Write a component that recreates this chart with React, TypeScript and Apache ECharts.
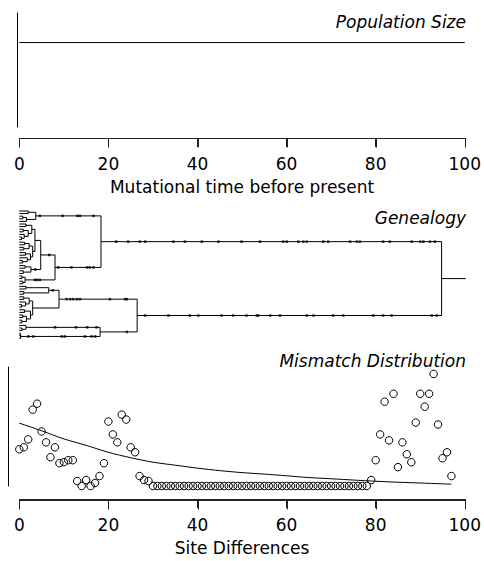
import React, { useEffect, useRef } from "react";
import * as echarts from "echarts";

// ---------- data ----------
const xTicks = [0, 20, 40, 60, 80, 100];
const popTime = [0, 100];
const popSize = [1, 1];

// Genealogy: internal node = [time, child, child, mutationTimesOnBranchAbove?]; leaf = leaf row index
type Node = number | [number, Node, Node, number[]?];
const cladeA1: Node = [3.7, [2.0, 0, 1], [1.6, [0.8, 2, 3], 4], [4.6, 9.7, 13.0, 13.6, 16.6]];
const cladeA2a1: Node = [3.5, [2.8, [1.5, 5, 6], [2.0, [0.9, 7, 8], [1.1, 9, [0.5, 10, 11]]]], [3.0, [2.2, [1.2, 12, 13], [1.0, 14, 15]], [2.5, [1.4, 16, 17], [1.8, 18, [0.7, 19, 20]]]]];
const cladeA2a2: Node = [2.6, [1.3, 21, 22], [0.9, 23, 24], [3.6]];
const cladeA2a: Node = [4.8, cladeA2a1, cladeA2a2, [6.7]];
const cladeA2b: Node = [1.3, [0.6, 25, 26], [0.8, 27, 28], [3.5, 4.0, 4.6]];
const cladeA2: Node = [8.0, cladeA2a, cladeA2b, [8.7, 11.7, 15.2, 15.8, 16.6]];
const cladeA: Node = [18.3, cladeA1, cladeA2, [21.7, 24.4, 27.0, 28.2, 34.5, 37.1, 40.9, 44.6, 49.8, 53.9, 59.1, 59.9, 62.5, 63.6, 64.4, 68.1, 69.2, 74.1, 75.6, 76.3, 81.5, 83.0, 87.9, 89.8, 90.5, 92.0, 93.1]];
const cladeB1a: Node = [6.6, [1.5, 29, 30], [1.0, 31, 32], [7.5]];
const cladeB1b: Node = [3.0, [2.2, [1.0, 33, 34], [1.4, 35, [0.5, 36, 37]]], [2.5, [1.2, 38, 39], [1.6, [0.8, 40, 41], [0.6, 42, 43]]]];
const cladeB1: Node = [8.9, cladeB1a, cladeB1b, [10.6, 11.4, 12.1, 12.9, 13.6, 20.3, 23.7, 24.1]];
const cladeB2a: Node = [1.5, 44, [0.6, 45, 46], [8.0, 12.7, 15.2, 17.3]];
const cladeB2b: Node = [0.3, [0.2, 47, 48], 49, [2.0, 3.1, 9.5, 10.2, 14.7, 16.2, 17.0]];
const cladeB2: Node = [18.1, cladeB2a, cladeB2b, [24.1]];
const cladeB: Node = [26.4, cladeB1, cladeB2, [28.2, 33.4, 38.2, 40.1, 45.3, 47.9, 50.9, 53.2, 53.5, 56.2, 58.4, 64.4, 65.9, 70.3, 72.6, 79.3, 81.5, 83.4, 92.4, 93.5]];
const genealogy: Node = [94.6, cladeA, cladeB];
const rootStemEnd = 100;

// Mismatch distribution
const siteDiffObserved = [
  37, 39, 47, 77, 83, 55, 44, 29, 39, 23,
  24, 26, 26, 5, 0, 6, 0, 3, 10, 23,
  65, 52, 44, 72, 67, 39, 34, 10, 6, 5,
  0, 0, 0, 0, 0, 0, 0, 0, 0, 0,
  0, 0, 0, 0, 0, 0, 0, 0, 0, 0,
  0, 0, 0, 0, 0, 0, 0, 0, 0, 0,
  0, 0, 0, 0, 0, 0, 0, 0, 0, 0,
  0, 0, 0, 0, 0, 0, 0, 0, 0, 6,
  26, 52, 85, 46, 93, 19, 44, 32, 24, 64,
  93, 80, 93, 113, 62, 28, 34, 10,
];
const expectedX = [0, 5, 10, 15, 20, 25, 30, 35, 40, 45, 50, 55, 60, 65, 70, 75, 80, 85, 90, 95, 97];
const expectedY = [63.4, 55.7, 47.5, 41, 34, 28.5, 24, 21, 18, 15.5, 13.5, 12, 10.3, 8.5, 7.3, 6, 4.8, 3.8, 3, 2.2, 1.8];

// ---------- helpers ----------
function layoutTree(node: Node, parentT: number, segs: number[][], muts: number[][]): number {
  if (typeof node === "number") {
    segs.push([0, node, parentT, node]);
    return node;
  }
  const [t, a, b, m] = node;
  const ya = layoutTree(a, t, segs, muts);
  const yb = layoutTree(b, t, segs, muts);
  const y = (ya + yb) / 2;
  segs.push([t, ya, t, yb]);
  segs.push([t, y, parentT, y]);
  (m || []).forEach((mt) => muts.push([mt, y]));
  return y;
}

const FONT = "DejaVu Sans";
const AXIS_COLOR = "#222";
const TICK_LEN = 9;
const GRID_LEFT = 19.3;
const GRID_WIDTH = 446.4;

const crisp = (v: number) => {
  const d = Math.round(v * 2);
  return (d + 1) % 2 === 0 ? d / 2 : (d + 1) / 2;
};

const xAxisBase = (name: string, offset: number) => ({
  type: "value",
  min: 0,
  max: 100,
  interval: 20,
  position: "bottom",
  offset,
  axisLine: { show: true, onZero: false, lineStyle: { color: AXIS_COLOR, width: 1 } },
  axisTick: { show: true, length: TICK_LEN, lineStyle: { color: AXIS_COLOR, width: 1 } },
  axisLabel: { show: true, color: "#000", fontSize: 17, fontFamily: FONT, margin: 17 },
  splitLine: { show: false },
  name,
  nameLocation: "middle",
  nameGap: 40,
  nameTextStyle: { color: "#000", fontSize: 17, fontFamily: FONT },
});
const plainY = (max: number, offset: number) => ({
  type: "value", min: 0, max, offset,
  axisLine: { show: true, onZero: false, lineStyle: { color: "#000", width: 1 } },
  axisTick: { show: false }, axisLabel: { show: false }, splitLine: { show: false },
});
const title = (text: string, y: number) => ({
  type: "text", x: 466, y,
  style: { text, font: `italic 17px '${FONT}'`, fill: "#000", align: "right", verticalAlign: "middle" },
});
// backup axis frame at the same place as the library axis
const axisFrame = (gridBottom: number, offset: number) => {
  const yb = crisp(gridBottom + offset);
  const els: any[] = [
    { type: "line", z: 100, shape: { x1: crisp(GRID_LEFT), y1: yb, x2: crisp(GRID_LEFT + GRID_WIDTH), y2: yb }, style: { stroke: AXIS_COLOR, lineWidth: 1 } },
  ];
  xTicks.forEach((v) => {
    const x = crisp(GRID_LEFT + (GRID_WIDTH * v) / 100);
    els.push({ type: "line", z: 100, shape: { x1: x, y1: yb, x2: x, y2: yb + TICK_LEN }, style: { stroke: AXIS_COLOR, lineWidth: 1 } });
  });
  return els;
};

export default function App() {
  const popRef = useRef<HTMLDivElement>(null);
  const treeRef = useRef<HTMLDivElement>(null);
  const mmRef = useRef<HTMLDivElement>(null);

  useEffect(() => {
    if (!popRef.current || !treeRef.current || !mmRef.current) return;

    // ---- Population size panel (page y 0..200) ----
    const popChart = echarts.init(popRef.current, null, { renderer: "svg" });
    popChart.setOption({
      animation: false,
      backgroundColor: "#fff",
      grid: { left: GRID_LEFT, width: GRID_WIDTH, top: 13, height: 114 },
      xAxis: xAxisBase("Mutational time before present", 11),
      yAxis: plainY(1.35, 2),
      graphic: [title("Population Size", 22), ...axisFrame(127, 11)],
      series: [
        {
          type: "line",
          data: popTime.map((t, i) => [t, popSize[i]]),
          symbol: "none", lineStyle: { color: "#000", width: 1 },
        },
      ],
    });

    // ---- Genealogy panel (page y 200..345) ----
    const segs: number[][] = [];
    const muts: number[][] = [];
    layoutTree(genealogy, rootStemEnd, segs, muts);
    const treeChart = echarts.init(treeRef.current, null, { renderer: "svg" });
    treeChart.setOption({
      animation: false,
      backgroundColor: "#fff",
      grid: { left: GRID_LEFT, width: GRID_WIDTH, top: 11, height: 130 },
      xAxis: { type: "value", min: 0, max: 100, show: false },
      yAxis: { type: "value", min: 0, max: 50, inverse: true, show: false },
      graphic: [title("Genealogy", 18)],
      series: [
        {
          type: "custom", clip: false, silent: true,
          encode: { x: [0, 2], y: [1, 3] },
          data: segs,
          renderItem: (_params: any, api: any) => {
            const p1 = api.coord([api.value(0), api.value(1)]);
            const p2 = api.coord([api.value(2), api.value(3)]);
            return {
              type: "line",
              shape: { x1: p1[0], y1: p1[1], x2: p2[0], y2: p2[1] },
              style: { stroke: "#000", lineWidth: 1 },
            };
          },
        },
        {
          type: "scatter", clip: false, silent: true,
          data: muts, symbol: "rect", symbolSize: [2.5, 2.5],
          itemStyle: { color: "#000" },
        },
      ],
    });

    // ---- Mismatch distribution panel (page y 345..561) ----
    const mmChart = echarts.init(mmRef.current, null, { renderer: "svg" });
    mmChart.setOption({
      animation: false,
      backgroundColor: "#fff",
      grid: { left: GRID_LEFT, width: GRID_WIDTH, top: 22, height: 120 },
      xAxis: xAxisBase("Site Differences", 13),
      yAxis: plainY(120, 11),
      graphic: [title("Mismatch Distribution", 16), ...axisFrame(142, 13)],
      series: [
        {
          type: "line",
          data: siteDiffObserved.map((v, i) => [i, v]),
          showSymbol: true, showAllSymbol: true,
          symbol: "circle", symbolSize: 7.5,
          lineStyle: { width: 0, opacity: 0 },
          itemStyle: { color: "rgba(255,255,255,0)", borderColor: "#000", borderWidth: 1 },
        },
        {
          type: "line",
          data: expectedX.map((x, i) => [x, expectedY[i]]),
          symbol: "none", smooth: 0.3, lineStyle: { color: "#000", width: 1 },
        },
      ],
    });

    return () => {
      popChart.dispose();
      treeChart.dispose();
      mmChart.dispose();
    };
  }, []);

  return (
    <div style={{ position: "absolute", left: 0, top: 0, width: 484, height: 561, background: "#fff" }}>
      <div ref={popRef} style={{ position: "absolute", left: 0, top: 0, width: 484, height: 200 }} />
      <div ref={treeRef} style={{ position: "absolute", left: 0, top: 200, width: 484, height: 145 }} />
      <div ref={mmRef} style={{ position: "absolute", left: 0, top: 345, width: 484, height: 216 }} />
    </div>
  );
}
